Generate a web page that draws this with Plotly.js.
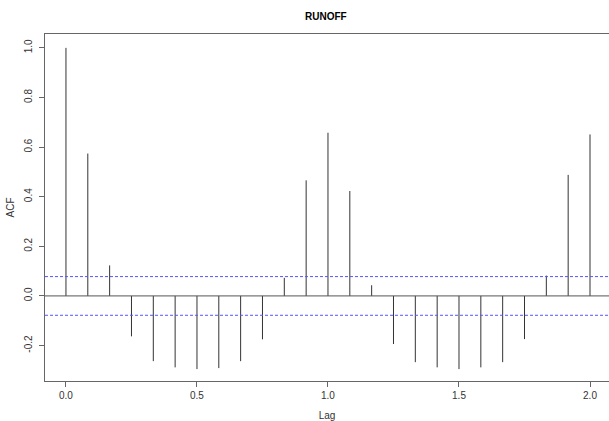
<!DOCTYPE html>
<html><head><meta charset="utf-8">
<script src="https://cdn.plot.ly/plotly-3.0.1.min.js"></script>
<style>html,body{margin:0;padding:0;background:#fff}#c{width:609px;height:421px}</style>
</head><body><div id="c"></div>
<script>
const lags = [0,1,2,3,4,5,6,7,8,9,10,11,12,13,14,15,16,17,18,19,20,21,22,23,24].map(k=>k/12);
const acf = [1.0,0.574,0.123,-0.163,-0.263,-0.288,-0.295,-0.291,-0.263,-0.175,0.073,0.466,0.658,0.423,0.043,-0.194,-0.267,-0.288,-0.295,-0.288,-0.267,-0.174,0.082,0.488,0.651];
const ciBound = 0.078;
const xTicks = [0,0.5,1,1.5,2];
const yTicks = [-0.2,0,0.2,0.4,0.6,0.8,1.0];

const sx=[], sy=[];
lags.forEach((l,i)=>{sx.push(l,l,null); sy.push(0,acf[i],null);});

const traces = [
 {x:sx, y:sy, mode:'lines', line:{color:'#333',width:1}, hoverinfo:'skip', showlegend:false}
];
const shapes = [
 {type:'line', xref:'paper', x0:0, x1:1, yref:'y', y0:0, y1:0, line:{color:'#555',width:1}},
 {type:'line', xref:'paper', x0:0, x1:1, yref:'y', y0:ciBound, y1:ciBound, line:{color:'#5555ff',width:1,dash:'3px,2px'}},
 {type:'line', xref:'paper', x0:0, x1:1, yref:'y', y0:-ciBound, y1:-ciBound, line:{color:'#5555ff',width:1,dash:'3px,2px'}}
];
const font = {family:'"Liberation Sans", Arial, sans-serif', size:10, color:'#333'};
const layout = {
 width:609, height:421,
 margin:{l:45, r:0, t:34, b:40},
 paper_bgcolor:'#fff', plot_bgcolor:'#fff',
 font: font,
 title:{text:'<b>RUNOFF</b>', x:0.535, xanchor:'center', y:0.96, yanchor:'middle', font:{family:'"Liberation Sans", Arial, sans-serif', size:10, color:'#000'}},
 xaxis:{range:[-0.08,2.0725], tickvals:xTicks, ticktext:xTicks.map(v=>v.toFixed(1)), ticks:'outside', ticklen:5, tickcolor:'#666',
   showgrid:false, zeroline:false, showline:true, mirror:true, linecolor:'#666', linewidth:1,
   title:{text:'Lag', font:{size:10, color:'#333'}, standoff:14}},
 yaxis:{range:[-0.343,1.056], tickvals:yTicks, ticktext:yTicks.map(v=>v.toFixed(1)), ticks:'outside', ticklen:5, tickcolor:'#666', tickangle:-90,
   ticklabelstandoff:3,
   showgrid:false, zeroline:false, showline:true, mirror:true, linecolor:'#666', linewidth:1,
   title:{text:'ACF', font:{size:10, color:'#333'}, standoff:6}},
 shapes: shapes
};
Plotly.newPlot('c', traces, layout, {staticPlot:true, displayModeBar:false});
</script></body></html>
